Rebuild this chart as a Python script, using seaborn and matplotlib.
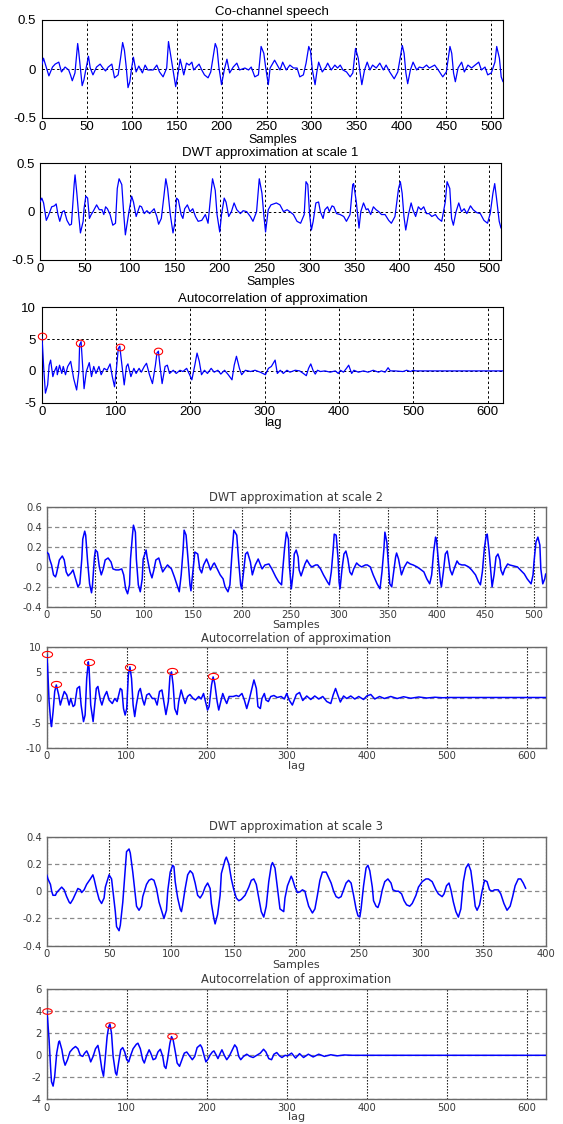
import numpy as np
import matplotlib
matplotlib.use("Agg")
import matplotlib.pyplot as plt
from matplotlib.path import Path
import seaborn as sns

# ---------------- data ----------------
speech_x = [0,2,8,12,15,19,22,26,30,32,34,37,40,41,43,45,47,49,52,54,57,61,65,68,71,74,78,81,85,88,90,92,94,96,98,100,
            102,105,108,112,115,118,124,128,131,135,139,141,144,146,149,151,154,156,158,161,164,167,169,172,175,178,181,
            185,188,191,193,195,197,200,203,206,209,213,217,220,226,230,233,237,241,244,247,249,252,254,259,265,268,272,
            276,280,284,287,291,294,297,299,301,304,306,308,312,316,318,322,326,329,332,335,339,343,346,349,352,354,356,
            359,362,365,368,372,376,380,383,387,392,396,401,403,405,407,410,413,417,420,424,428,431,437,441,446,450,454,
            456,458,460,463,467,470,474,478,482,486,489,493,496,500,504,506,509,511,513]
speech_y = [0.04,0.11,-0.07,0.02,0.05,0.07,-0.03,0.02,-0.01,-0.06,-0.12,-0.04,0.26,0.19,0.01,-0.17,-0.11,-0.01,0.13,0.01,
            -0.06,0.02,0.05,0.01,-0.02,0.02,0.05,-0.09,-0.06,0.13,0.27,0.19,0.02,-0.19,-0.13,0.01,0.12,-0.03,0.03,-0.04,0.04,
            -0.01,-0.01,0.04,-0.03,-0.08,0.01,0.28,0.11,-0.01,-0.18,-0.08,0.10,0.02,-0.06,0.06,0.04,0.07,-0.01,0.02,0.05,
            -0.01,-0.06,-0.09,-0.03,0.14,0.26,0.21,0.02,-0.16,-0.01,0.10,-0.04,0.02,0.06,-0.01,0.01,-0.01,0.02,-0.08,-0.06,
            0.23,0.16,0.02,-0.16,0.01,0.09,-0.01,0.07,-0.01,0.04,0.01,0.01,-0.08,-0.06,0.06,0.23,0.18,-0.01,-0.16,-0.03,0.07,
            -0.03,0.02,0.06,-0.01,0.04,0.01,0.04,-0.01,-0.03,-0.08,-0.04,0.21,0.11,-0.03,-0.16,-0.01,0.07,-0.01,0.04,0.01,
            0.06,-0.01,0.04,-0.03,-0.10,-0.03,0.24,0.16,-0.04,-0.15,-0.01,0.07,-0.01,0.02,0.01,0.04,0.01,0.04,-0.01,-0.08,
            -0.03,0.23,0.16,-0.04,-0.13,0.01,0.07,-0.03,0.04,0.01,0.04,0.07,-0.01,0.02,-0.06,-0.04,0.07,0.23,0.11,-0.08,-0.13]

s1_x = [0,2,4,7,9,13,16,18,20,22,25,27,30,33,35,38,39,41,43,45,48,49,51,53,55,57,59,63,66,69,71,73,75,78,81,84,86,88,91,
        93,95,97,99,102,104,107,111,113,116,119,122,127,130,132,135,138,140,142,145,148,150,152,154,157,159,161,164,167,
        170,173,176,180,184,187,190,192,195,197,200,202,205,207,210,213,216,219,223,226,230,234,237,241,244,247,249,251,
        254,257,263,267,271,275,278,282,286,290,294,296,298,300,302,304,307,310,312,315,317,320,322,325,327,330,334,338,
        341,345,348,349,352,355,357,360,363,365,368,371,374,377,380,384,388,391,395,399,401,403,405,407,410,413,415,418,
        421,424,427,430,433,436,440,443,447,451,453,456,458,460,463,466,469,472,475,479,482,486,490,494,498,501,504,506,
        508,511,513]
s1_y = [0.10,0.14,0.09,-0.09,-0.05,0.05,0.06,0.08,-0.03,-0.10,0.00,0.01,-0.09,-0.14,-0.13,0.28,0.38,0.19,-0.03,-0.22,
        -0.10,0.03,0.16,0.14,-0.07,-0.03,0.00,0.07,0.02,0.02,-0.03,0.05,0.03,-0.03,-0.14,-0.12,0.24,0.34,0.28,0.00,-0.24,
        -0.12,0.00,0.16,0.10,-0.05,0.06,0.05,-0.02,0.01,-0.02,0.03,-0.05,-0.13,-0.07,0.17,0.34,0.24,-0.03,-0.22,-0.12,0.14,
        0.12,-0.03,-0.07,0.03,0.07,0.00,0.03,-0.05,-0.10,-0.09,-0.03,-0.12,0.17,0.34,0.22,-0.03,-0.21,-0.03,0.14,0.10,-0.05,
        0.00,0.09,0.02,-0.02,0.01,0.00,-0.05,-0.10,0.00,0.34,0.19,-0.03,-0.21,0.02,0.07,0.09,0.07,0.00,0.02,0.00,-0.03,
        -0.10,-0.12,-0.03,0.31,0.28,-0.03,-0.19,-0.10,0.09,0.10,0.00,-0.07,0.02,0.05,0.00,0.06,0.05,-0.02,-0.03,-0.05,
        -0.10,-0.03,0.28,0.29,0.10,-0.17,0.00,0.09,0.02,0.03,-0.03,0.05,0.02,0.00,-0.03,-0.03,-0.09,-0.12,-0.05,0.24,0.31,
        0.19,-0.05,-0.19,-0.03,0.09,0.02,-0.05,0.05,0.02,0.05,-0.02,-0.02,-0.05,-0.03,-0.07,-0.10,0.10,0.31,0.24,-0.07,
        -0.14,0.00,0.09,0.00,0.03,-0.02,0.06,0.02,-0.01,-0.02,-0.09,-0.12,-0.02,0.19,0.29,0.14,-0.10,-0.17]

ac1_x = [0,1,3,5,8,10,12,15,17,20,21,24,27,29,32,35,39,43,47,50,51,53,55,57,60,64,67,70,73,77,80,84,88,92,95,98,101,103,
         105,108,111,114,116,120,124,127,131,134,138,141,145,149,153,155,157,159,162,166,169,172,177,181,186,190,195,199,
         202,206,209,212,215,219,223,228,232,237,241,246,251,256,259,262,266,269,274,281,287,294,301,305,309,314,317,321,
         325,330,334,341,347,352,356,359,362,365,368,371,375,381,388,395,399,402,406,410,413,417,420,426,433,439,446,453,
         457,462,466,469,475,486,491,496,500,503,621]
ac1_y = [5.4,4.1,-0.1,-3.5,-2.2,0.9,1.7,-0.9,-0.1,0.7,-0.6,0.9,-0.4,0.7,-0.6,0.7,1.5,-1.2,-3.0,-0.1,4.1,4.6,0.9,-2.8,
         -0.1,1.3,-0.9,0.7,-0.4,0.7,-0.6,0.4,0.1,1.1,-0.9,-2.5,0.9,3.5,3.9,0.9,-2.2,0.7,1.1,-0.9,0.4,-0.4,0.4,-0.2,0.7,1.2,
         -0.6,-2.0,0.9,2.8,3.1,0.9,-2.0,0.7,0.9,-0.4,0.1,-0.4,0.1,-0.1,0.4,-0.6,-1.4,0.9,2.8,1.5,-0.6,0.1,-0.4,0.4,-0.2,
         0.1,-0.5,0.1,-0.6,-1.4,0.9,2.3,0.4,-0.6,0.1,-0.1,0.1,-0.2,-0.6,0.4,0.7,1.7,-0.4,0.1,-0.4,0.1,-0.2,0.1,0.0,-0.4,
         -0.75,0.4,1.1,0.1,-0.5,0.1,-0.1,0.0,-0.2,0.0,-0.4,0.1,-0.2,0.4,0.9,-0.4,0.1,-0.2,0.0,-0.2,0.1,-0.2,0.0,-0.2,0.5,
         0.0,0.0,-0.1,0.1,-0.1,0.1,0.0,0.0]
ac1_peak_x = [0, 52, 105, 156]
ac1_peak_y = [5.5, 4.4, 3.8, 3.2]

s2_x = [0,2,3,5,7,9,10,13,16,18,20,22,25,27,29,32,34,36,37,39,40,42,44,46,47,49,50,52,54,56,58,60,63,66,68,71,74,77,79,
        81,83,85,86,88,89,91,92,94,96,98,99,102,103,106,108,110,112,115,117,119,121,124,128,131,135,136,138,140,141,143,
        145,147,148,150,152,155,157,159,161,164,166,168,171,172,175,178,181,183,186,188,190,192,195,197,199,200,202,204,
        206,209,211,214,217,219,221,224,228,231,235,238,241,242,244,246,248,249,251,253,254,256,258,259,261,263,265,267,
        270,272,276,278,281,284,288,290,292,294,295,297,299,300,301,303,305,307,309,311,313,315,318,320,323,327,329,332,
        335,339,342,344,346,347,349,351,352,354,356,358,359,361,363,364,367,370,373,376,380,383,387,390,393,395,397,399,
        400,402,404,405,407,409,411,412,414,416,418,421,423,426,429,433,436,440,443,445,447,449,451,452,454,456,457,459,
        461,463,465,466,468,470,473,475,479,483,486,490,493,497,499,500,502,504,506,507,509,511,512]
s2_y = [0.15,0.13,0.08,0.02,-0.08,-0.10,-0.07,0.07,0.11,0.07,-0.05,-0.09,-0.06,-0.03,-0.10,-0.20,-0.17,0.08,0.28,0.36,
        0.32,0.05,-0.17,-0.26,-0.18,0.10,0.17,0.15,0.00,-0.08,-0.02,0.07,0.09,0.05,-0.02,-0.03,-0.03,-0.02,-0.08,-0.22,
        -0.27,-0.18,0.08,0.32,0.42,0.35,0.08,-0.18,-0.25,-0.12,0.08,0.17,0.10,-0.05,-0.11,-0.03,0.07,0.09,0.02,-0.05,
        -0.02,0.02,-0.02,-0.10,-0.22,-0.25,-0.08,0.18,0.37,0.32,0.08,-0.18,-0.24,-0.05,0.15,0.13,-0.02,-0.06,0.02,0.08,
        0.03,-0.03,0.03,0.04,-0.02,-0.08,-0.12,-0.20,-0.25,-0.18,0.12,0.37,0.32,0.05,-0.18,-0.22,-0.05,0.13,0.15,0.05,
        -0.08,0.02,0.08,0.03,-0.02,0.02,0.03,-0.02,-0.10,-0.15,-0.18,-0.05,0.18,0.35,0.28,0.02,-0.22,-0.05,0.13,0.17,
        0.10,-0.03,-0.09,-0.03,0.03,0.07,0.02,0.00,0.02,0.02,-0.02,-0.08,-0.15,-0.18,-0.05,0.18,0.33,0.32,0.08,-0.15,
        -0.22,-0.02,0.13,0.16,0.08,-0.05,-0.08,-0.02,0.04,0.02,0.00,0.02,0.02,0.00,-0.08,-0.17,-0.22,-0.05,0.18,0.35,
        0.25,-0.02,-0.17,-0.20,-0.05,0.10,0.14,0.08,-0.03,-0.08,0.00,0.05,0.03,0.02,0.00,-0.02,-0.05,-0.12,-0.17,-0.08,
        0.15,0.30,0.27,0.05,-0.15,-0.20,-0.05,0.13,0.16,0.10,-0.03,-0.08,-0.02,0.06,0.03,0.02,0.02,0.00,-0.03,-0.08,
        -0.15,-0.18,-0.05,0.18,0.32,0.33,0.15,-0.08,-0.20,-0.08,0.10,0.13,0.07,-0.03,-0.08,-0.02,0.03,0.02,0.01,0.00,
        -0.03,-0.07,-0.12,-0.17,-0.08,0.05,0.25,0.30,0.22,-0.02,-0.17,-0.12,-0.07]

ac2_x = [0,1,3,5,6,8,10,12,15,17,20,22,25,28,30,33,35,38,41,43,46,48,50,52,53,55,58,60,62,64,67,69,72,75,78,82,85,88,
         92,94,96,98,100,102,104,106,108,110,112,115,117,120,122,125,128,132,135,138,141,144,147,149,152,154,156,158,
         160,163,165,168,171,173,176,179,183,186,190,193,196,198,201,203,206,208,210,213,215,218,220,223,225,228,233,237,
         240,244,247,250,253,257,259,262,264,267,269,272,274,277,280,284,288,293,297,300,303,307,312,316,320,325,330,335,
         340,345,350,355,358,361,364,367,371,375,380,385,390,396,400,405,410,416,422,430,438,446,455,465,475,485,495,503,
         624]
ac2_y = [8.6,6.5,-0.8,-4.8,-5.8,-2.8,1.2,2.5,0.5,-1.5,0.2,1.2,0.5,-1.5,-0.2,-1.8,-1.5,1.8,2.2,-1.5,-4.8,-3.5,3.8,7.1,
         5.8,-1.5,-4.8,-1.5,1.8,2.2,-0.5,-1.5,0.2,1.2,-0.5,-1.2,-0.2,-0.8,1.8,1.5,-2.2,-3.5,-2.2,4.5,6.1,3.8,-1.5,-3.8,
         -1.5,1.2,1.8,-0.5,-1.5,0.5,0.8,-0.2,-0.2,-1.5,1.2,1.5,-1.5,-3.4,-0.8,4.2,5.1,2.5,-2.2,-3.4,-0.8,1.5,-0.2,-1.2,
         0.2,0.6,-0.2,-0.5,0.2,-0.3,0.8,-0.5,-2.5,-1.8,2.5,4.1,2.8,-0.8,-2.5,-0.5,0.8,-0.5,-1.2,0.2,0.2,0.4,0.2,0.8,-0.5,
         -2.2,-0.5,2.2,3.5,1.8,-1.8,-2.2,-0.2,0.8,-0.5,-0.8,0.2,0.4,0.0,0.2,-0.3,0.8,-0.5,-1.5,0.6,1.0,-0.6,0.3,-0.4,0.3,
         -0.3,0.2,-0.8,-1.2,0.5,1.8,0.4,-0.9,0.3,-0.2,0.3,-0.3,0.2,-0.4,0.3,0.6,-0.3,0.2,-0.2,0.2,-0.2,0.15,-0.15,0.1,
         -0.1,0.05,-0.05,0.0,0.0]
ac2_peak_x = [0, 12, 53, 104, 156, 208]
ac2_peak_y = [8.6, 2.7, 7.1, 6.1, 5.2, 4.2]

s3_x = [0,1,3,4,5,7,8,10,12,14,16,18,19,21,23,25,27,28,30,32,35,37,38,40,42,44,46,47,49,50,52,53,55,56,58,59,61,63,64,
        66,67,69,71,72,74,76,77,80,82,84,86,88,90,93,94,96,97,99,101,102,103,105,107,108,109,111,113,115,117,119,121,123,
        125,127,129,131,132,134,135,137,139,140,143,144,146,148,150,152,154,156,159,162,164,166,168,170,172,174,176,178,
        180,181,183,187,190,191,193,196,197,199,201,203,205,207,208,210,213,215,217,219,221,224,225,228,230,232,234,236,
        238,240,242,244,246,248,249.5,251,252,254,256,257.5,259,261,262,264,265.5,267,269,271,273.5,276,277.5,280,282,
        284.5,286.5,288.5,291,293,296,298,301,304,306,309,312,314,317,318.5,320.5,322.5,324,326,328,330,332,334,336,338,
        340,342,343.5,345,347,349,351,353,355,357,359,362,364,366.5,369,371.5,373.5,375.5,378,380,382,384]
s3_y = [0.12,0.09,0.05,0.00,-0.03,-0.03,-0.01,0.01,0.03,0.01,-0.04,-0.08,-0.09,-0.06,-0.02,0.02,0.01,-0.01,0.01,0.05,
        0.09,0.12,0.09,0.01,-0.06,-0.09,-0.05,0.03,0.09,0.12,0.09,0.01,-0.15,-0.26,-0.29,-0.25,-0.08,0.17,0.29,0.31,0.28,
        0.14,-0.03,-0.11,-0.14,-0.11,-0.04,0.05,0.08,0.09,0.08,0.02,-0.08,-0.17,-0.20,-0.14,0.00,0.14,0.19,0.18,0.07,
        -0.05,-0.13,-0.15,-0.10,0.02,0.12,0.15,0.13,0.06,-0.03,-0.05,-0.02,0.03,0.06,0.02,-0.09,-0.20,-0.24,-0.17,-0.03,
        0.13,0.23,0.25,0.20,0.09,0.01,-0.05,-0.07,-0.06,-0.03,0.03,0.08,0.09,0.05,-0.05,-0.15,-0.19,-0.11,0.07,0.19,0.21,
        0.17,-0.13,-0.15,-0.05,0.04,0.11,0.09,0.03,-0.01,-0.005,0.01,0.00,-0.04,-0.11,-0.16,-0.13,-0.03,0.08,0.14,0.14,
        0.12,0.06,0.00,-0.04,-0.05,-0.04,0.01,0.06,0.08,0.06,-0.03,-0.13,-0.18,-0.19,-0.13,0.04,0.17,0.19,0.15,0.03,-0.07,
        -0.11,-0.12,-0.08,0.01,0.07,0.09,0.06,0.01,0.00,0.00,-0.02,-0.07,-0.10,-0.11,-0.09,-0.03,0.03,0.07,0.09,0.09,0.07,
        0.01,-0.02,-0.04,-0.02,0.04,0.06,0.01,-0.08,-0.15,-0.19,-0.13,0.07,0.17,0.20,0.15,0.01,-0.11,-0.14,-0.10,0.00,
        0.08,0.07,0.01,0.00,0.01,0.01,-0.02,-0.09,-0.14,-0.11,-0.04,0.04,0.09,0.09,0.06,0.02]

ac3_x = [0,1,3,5,6,8,10,12.5,15,16,19,21,23,26,29,32.5,36,39,42,45,47.5,50,52.5,55,58,61,64,66,69,71,73,75.5,77.5,79,
         81,83,86,87.5,90,92.5,95,97.5,100,102.5,105,108,112,114,117,120,122,125,128,130,133,136,139,142,145,147,149,151,
         154,156,158,161,163,166,169,172,175,178,182,185,188,192,194,197,199,202,204,207,209,212,214,217,219,222,225,228,
         232,235,237.5,240,242.5,246,250,254,258,262.5,267,271,274,277.5,281,284,287.5,291,294,298,301,306,311,316,321,
         327,333,340,347,355,363,372,382,624]
ac3_y = [4.0,3.4,1.4,-1.3,-2.4,-2.8,-1.9,0.2,1.2,1.3,0.5,-0.4,-0.9,-0.4,0.3,0.6,0.8,0.6,0.0,-0.1,0.2,0.4,0.0,-0.6,-0.1,
         0.6,0.9,0.2,-1.3,-1.9,-0.4,1.7,2.6,2.85,2.0,-0.1,-1.6,-1.8,-0.6,0.5,0.7,0.3,-0.4,-0.6,0.0,0.6,1.0,1.1,0.6,-0.4,
         -0.7,0.0,0.5,0.2,-0.4,-0.3,0.3,0.55,-0.1,-1.0,-1.2,-0.4,1.1,1.7,1.4,0.2,-0.7,-1.0,-0.4,0.2,0.3,0.0,-0.4,-0.1,
         0.7,0.95,0.7,-0.1,-0.6,-0.3,0.0,0.3,0.4,0.0,-0.3,0.2,0.5,0.0,-0.4,-0.1,0.5,0.95,0.7,-0.1,-0.4,-0.1,0.1,-0.1,-0.2,
         0.0,0.2,0.55,0.3,-0.3,-0.4,0.1,0.25,-0.05,-0.2,0.0,-0.05,0.2,-0.25,0.15,-0.2,0.1,-0.15,0.1,-0.1,0.05,-0.05,0.03,
         0.0,0.0]
ac3_peak_x = [0, 79, 157]
ac3_peak_y = [4.0, 2.8, 1.75]

titles = ["Co-channel speech", "DWT approximation at scale 1", "Autocorrelation of approximation",
          "DWT approximation at scale 2", "Autocorrelation of approximation",
          "DWT approximation at scale 3", "Autocorrelation of approximation"]
xlabels = ["Samples", "Samples", "lag", "Samples", "lag", "Samples", "lag"]

xt_512 = [0, 50, 100, 150, 200, 250, 300, 350, 400, 450, 500]
xt_lag = [0, 100, 200, 300, 400, 500, 600]
xt_400 = [0, 50, 100, 150, 200, 250, 300, 350, 400]
yt_1 = [-0.5, 0, 0.5]
yt_1_lab = ["-0.5", "0", "0.5"]
yt_ac1 = [-5, 0, 5, 10]
yt_s2 = [-0.4, -0.2, 0, 0.2, 0.4, 0.6]
yt_s2_lab = ["-0.4", "-0.2", "0", "0.2", "0.4", "0.6"]
yt_ac2 = [-10, -5, 0, 5, 10]
yt_s3 = [-0.4, -0.2, 0, 0.2, 0.4]
yt_s3_lab = ["-0.4", "-0.2", "0", "0.2", "0.4"]
yt_ac3 = [-4, -2, 0, 2, 4, 6]

# ---------------- figure ----------------
sns.set_style("white")
plt.rcParams["axes.unicode_minus"] = False
plt.rcParams["font.family"] = ["Liberation Sans", "DejaVu Sans"]

W, H = 563, 1124
fig = plt.figure(figsize=(W / 100, H / 100), dpi=100)
fig.patch.set_facecolor("white")

t = np.linspace(0, 2 * np.pi, 60)
def ell(a):
    return Path(np.column_stack([a * np.cos(t), np.sin(t)]))

def make_ax(l, tp, r, b):
    return fig.add_axes([l / W, 1 - b / H, (r - l) / W, (b - tp) / H])

# style groups
TOP = dict(font=["Liberation Sans", "DejaVu Sans"], tsize=9.5, fsize=9.5, col="black", spine="black", slw=0.8)
BOT = dict(font=["DejaVu Sans"], tsize=8.3, fsize=7.2, col="#3a3a3a", spine="#6a6a6a", slw=1.0)

specs = [
    # box px, xlim, ylim, xticks, yticks, ylabels, style, title offset px, xlabel offset px, xlabel size
    ((41.7, 20, 503, 118), (0, 513), (-0.5, 0.5), xt_512, yt_1, yt_1_lab, TOP, 8, 21.5, 9.0),
    ((40, 163.3, 501, 260), (0, 513), (-0.5, 0.5), xt_512, yt_1, yt_1_lab, TOP, 10, 21.5, 9.0),
    ((41.7, 307.3, 503.3, 402.7), (0, 621), (-5, 10), xt_lag, yt_ac1, [str(v) for v in yt_ac1], TOP, 8, 20.5, 9.5),
    ((46.7, 507.3, 545.7, 606.7), (0, 512), (-0.4, 0.6), xt_512, yt_s2, yt_s2_lab, BOT, 10, 18, 8.0),
    ((46.7, 647.3, 546, 747.7), (0, 624), (-10, 10), xt_lag, yt_ac2, [str(v) for v in yt_ac2], BOT, 9, 18, 8.0),
    ((46.7, 836.7, 545.7, 945.7), (0, 400), (-0.4, 0.4), xt_400, yt_s3, yt_s3_lab, BOT, 10.5, 19.5, 8.0),
    ((46.7, 989.3, 546, 1099.3), (0, 624), (-4, 6), xt_lag, yt_ac3, [str(v) for v in yt_ac3], BOT, 10, 18, 8.0),
]
series = [(speech_x, speech_y), (s1_x, s1_y), (ac1_x, ac1_y), (s2_x, s2_y), (ac2_x, ac2_y), (s3_x, s3_y), (ac3_x, ac3_y)]
peaks = {2: (ac1_peak_x, ac1_peak_y, 1.25, 6.0), 4: (ac2_peak_x, ac2_peak_y, 1.65, 7.3), 6: (ac3_peak_x, ac3_peak_y, 1.7, 6.8)}

for i, (box, xl, yl, xt, yt, ylab, st, toff, xoff, xls) in enumerate(specs):
    ax = make_ax(*box)
    h = box[3] - box[1]
    top = st is TOP
    ax.set_facecolor("white")
    sx, sy = series[i]
    sns.lineplot(x=sx, y=sy, ax=ax, color="#0000ff", linewidth=0.9 if top else 1.1,
                 estimator=None, sort=False, zorder=3)
    if i in peaks:
        px, py, asp, ms = peaks[i]
        ax.plot(px, py, linestyle="none", marker=ell(asp), markersize=ms, clip_on=False,
                markerfacecolor="none", markeredgecolor="#ff0000", markeredgewidth=0.8, zorder=4)
    ax.set_xlim(*xl)
    ax.set_ylim(*yl)
    ax.set_xticks(xt)
    ax.set_xticklabels([str(v) for v in xt])
    ax.set_yticks(yt)
    ax.set_yticklabels(ylab)
    ax.tick_params(direction="in", length=3, width=0.6, colors=st["col"], labelsize=st["fsize"],
                   pad=2.5)
    ax.tick_params(axis="y", pad=4 if top else 3.5)
    for lab in ax.get_xticklabels() + ax.get_yticklabels():
        lab.set_family(st["font"])
    for sp in ax.spines.values():
        sp.set_visible(True)
        sp.set_color(st["spine"])
        sp.set_linewidth(st["slw"])
    if top:
        ax.grid(True, color="black", linestyle=(0, (2.5, 2.5)), linewidth=0.7)
    else:
        ax.xaxis.grid(True, color="black", linestyle=(0, (1.2, 1.5)), linewidth=0.8)
        ax.yaxis.grid(True, color="#8a8a8a", linestyle=(0, (3.5, 2.5)), linewidth=0.9)
    ax.set_axisbelow(True)
    ax.text(0.5, 1 + toff / h, titles[i], transform=ax.transAxes, ha="center", va="center",
            fontsize=st["tsize"], family=st["font"], color=st["col"])
    ax.text(0.5, -xoff / h, xlabels[i], transform=ax.transAxes, ha="center", va="center",
            fontsize=xls, family=st["font"], color=st["col"])

fig.savefig("out.png", dpi=100, facecolor="white")
